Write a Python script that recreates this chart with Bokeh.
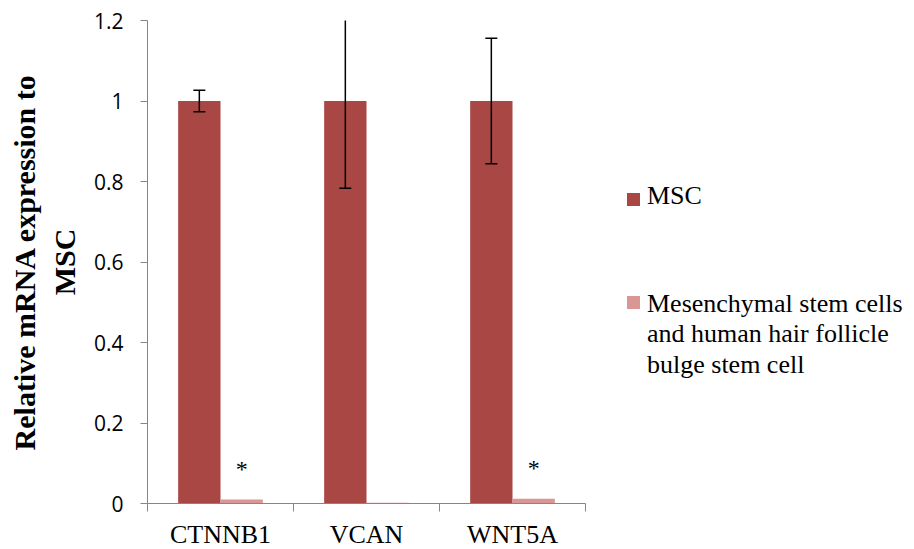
from bokeh.plotting import figure
from bokeh.models import ColumnDataSource, FixedTicker, Range1d, Label, Div
from bokeh.layouts import row
from bokeh.embed import file_html
from bokeh.resources import INLINE

categories = ["CTNNB1", "VCAN", "WNT5A"]
msc_values = [1.0, 1.0, 1.0]
msc_err = [0.027, 0.217, 0.156]
hfb_values = [0.010, 0.002, 0.012]
sig_marks = ["*", "", "*"]
series_names = ["MSC", "Mesenchymal stem cells\nand human hair follicle\nbulge stem cell"]
y_ticks = [0, 0.2, 0.4, 0.6, 0.8, 1.0, 1.2]
y_tick_labels = ["0", "0.2", "0.4", "0.6", "0.8", "1", "1.2"]

C_MSC = "#A94744"
C_HFB = "#D99694"
SERIF = "Liberation Serif"

n = len(categories)
centers = [i + 0.5 for i in range(n)]
bw = 0.29
msc_x = [c - bw / 2 for c in centers]
hfb_x = [c + bw / 2 for c in centers]

src_msc = ColumnDataSource(dict(x=msc_x, top=msc_values,
                                lo=[v - e for v, e in zip(msc_values, msc_err)],
                                hi=[v + e for v, e in zip(msc_values, msc_err)]))

LEFT = 147
FRAME_W = 438
FRAME_H = 483
RIGHT = 10
Y_MAX = 1.2
p = figure(output_backend="svg", toolbar_location=None,
           frame_width=FRAME_W, frame_height=FRAME_H,
           min_border_left=LEFT, min_border_top=20, min_border_bottom=30,
           min_border_right=RIGHT,
           x_range=Range1d(0, n), y_range=Range1d(0, Y_MAX))
p.outline_line_color = None
p.xgrid.visible = False
p.ygrid.visible = False

p.vbar(x="x", top="top", width=bw, bottom=0, source=src_msc,
       fill_color=C_MSC, line_color=None)
p.vbar(x=hfb_x, top=hfb_values, width=bw, bottom=0,
       fill_color=C_HFB, line_color=None)

# error bars
p.segment(x0="x", y0="lo", x1="x", y1="hi", source=src_msc, line_color="black", line_width=1.5)
p.scatter(x="x", y="lo", source=src_msc, marker="dash", size=12, line_color="black", line_width=1.5)
p.scatter(x="x", y="hi", source=src_msc, marker="dash", size=12, line_color="black", line_width=1.5)

# significance marks
for xv, yv, s in zip(hfb_x, hfb_values, sig_marks):
    if s:
        p.add_layout(Label(x=xv, y=yv + 0.075, text=s, text_align="center",
                           text_baseline="middle", text_font=SERIF,
                           text_font_size="24px", text_color="black"))

# axes
ax_col = "#868686"
p.xaxis.ticker = FixedTicker(ticks=centers, minor_ticks=list(range(n + 1)))
p.xaxis.major_label_overrides = {c: lab for c, lab in zip(centers, categories)}
p.xaxis.major_tick_out = 0
p.xaxis.major_tick_in = 0
p.xaxis.minor_tick_out = 8
p.xaxis.minor_tick_in = 0
p.xaxis.minor_tick_line_color = ax_col
p.xaxis.axis_line_color = ax_col
p.xaxis.major_label_text_font = SERIF
p.xaxis.major_label_text_font_size = "26px"
p.xaxis.major_label_text_color = "black"
p.xaxis.major_label_standoff = 8

p.yaxis.ticker = FixedTicker(ticks=y_ticks)
p.yaxis.major_label_overrides = {t: lab for t, lab in zip(y_ticks, y_tick_labels)}
p.yaxis.major_tick_out = 7
p.yaxis.major_tick_in = 0
p.yaxis.minor_tick_out = 0
p.yaxis.minor_tick_in = 0
p.yaxis.major_tick_line_color = ax_col
p.yaxis.axis_line_color = ax_col
p.yaxis.major_label_text_font = "Open Sans"
p.yaxis.major_label_text_font_size = "21px"
p.yaxis.major_label_text_color = "black"
p.yaxis.major_label_standoff = 17
p.yaxis.axis_label = "Relative mRNA expression to\nMSC"
p.yaxis.axis_label_text_font = SERIF
p.yaxis.axis_label_text_font_style = "bold"
p.yaxis.axis_label_text_font_size = "30px"
p.yaxis.axis_label_text_color = "black"
p.yaxis.axis_label_standoff = 10

# legend as HTML beside the figure (positions in px within the legend box)
FIG_W = LEFT + FRAME_W + RIGHT
LEG_W = 914 - FIG_W - 2
key_left = 627 - FIG_W
key_tops = [192.5, 296]
text_left = 647 - FIG_W
text_tops = [181, 288.5]
items = []
for name, col, kt, tt in zip(series_names, [C_MSC, C_HFB], key_tops, text_tops):
    items.append(
        f'<div style="position:absolute;left:{key_left}px;top:{kt}px;width:13px;height:13px;background:{col};"></div>'
        f'<div style="position:absolute;left:{text_left}px;top:{tt}px;font-family:\'Liberation Serif\',serif;'
        f'font-size:26px;line-height:30.5px;color:black;white-space:nowrap;">'
        + "<br>".join(name.split("\n")) + "</div>")
html = f'<div style="position:relative;width:{LEG_W}px;height:540px;">' + "".join(items) + "</div>"
legend_div = Div(text=html, width=LEG_W, height=540, margin=0)

open("out.html", "w").write(file_html(row(p, legend_div, spacing=0), INLINE))
